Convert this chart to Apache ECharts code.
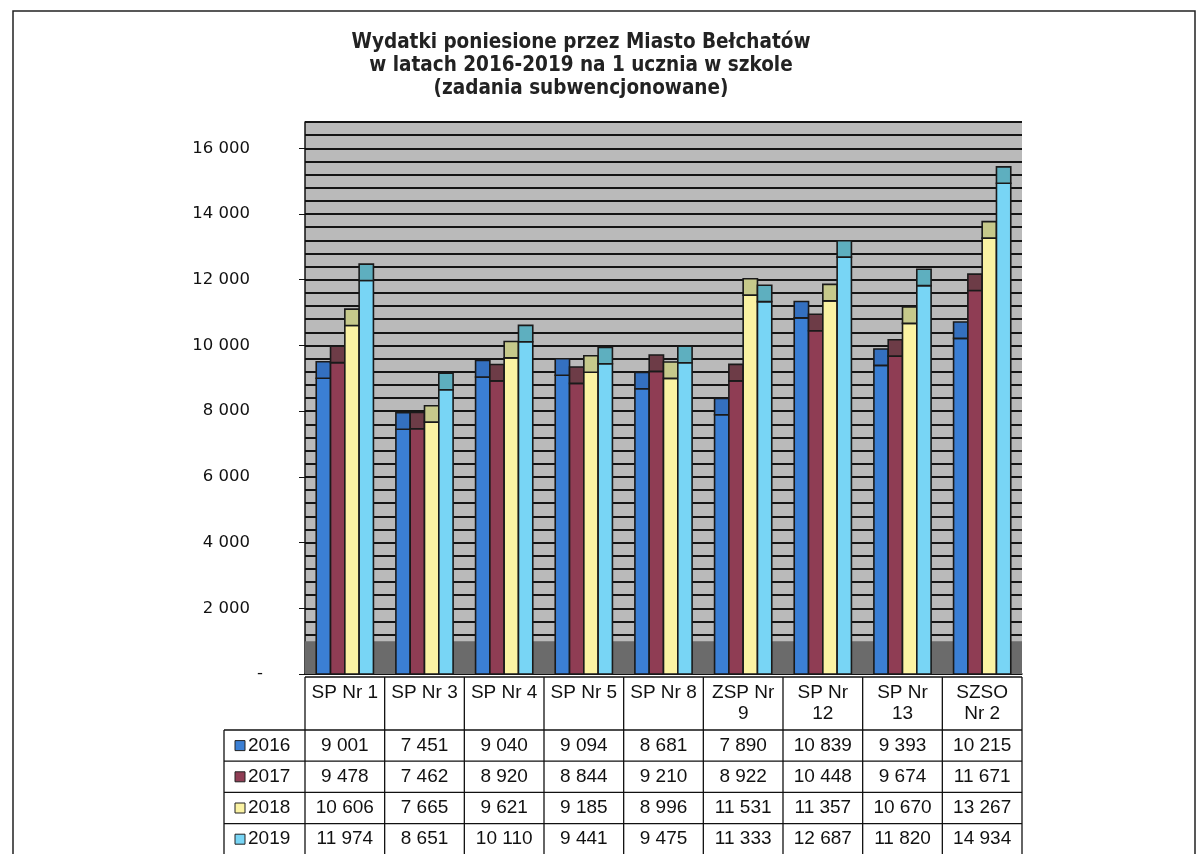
<!DOCTYPE html>
<html>
<head>
<meta charset="utf-8">
<title>Wydatki na 1 ucznia</title>
<script src="https://cdn.jsdelivr.net/npm/echarts@6/dist/echarts.min.js"></script>
<style>
  html, body { margin: 0; padding: 0; background: #fff; }
  #chart { width: 1204px; height: 854px; }
</style>
</head>
<body>
<div id="chart"></div>
<script>
// data
const schools = ['SP Nr 1', 'SP Nr 3', 'SP Nr 4', 'SP Nr 5', 'SP Nr 8', 'ZSP Nr\n9', 'SP Nr\n12', 'SP Nr\n13', 'SZSO\nNr 2'];
const years = ['2016', '2017', '2018', '2019'];
const v2016 = [9001, 7451, 9040, 9094, 8681, 7890, 10839, 9393, 10215];
const v2017 = [9478, 7462, 8920, 8844, 9210, 8922, 10448, 9674, 11671];
const v2018 = [10606, 7665, 9621, 9185, 8996, 11531, 11357, 10670, 13267];
const v2019 = [11974, 8651, 10110, 9441, 9475, 11333, 12687, 11820, 14934];
const yTicks = [0, 2000, 4000, 6000, 8000, 10000, 12000, 14000, 16000];

const rows = [v2016, v2017, v2018, v2019];
const colors = ['#3b7fd4', '#8f3d54', '#fbf3a3', '#78d5f5'];
const capColors = ['#3470c0', '#6d3c47', '#c6c98b', '#5eafbf'];

// layout (px)
const G = { left: 305, right: 182, top: 122, bottom: 180 };
const plotW = 1204 - G.left - G.right;
const colW = plotW / schools.length;
const barW = 14.3;
const capDepth = 500; // 3D cap look, in axis units
const tableTop = 677, headBottom = 730, rowH = 31.2, labelLeft = 224;

const fmt = v => String(v).replace(/\B(?=(\d{3})+(?!\d))/g, ' ');

function makeSeries(yi) {
  return {
    name: years[yi],
    type: 'custom',
    z: 3,
    data: rows[yi].map((v, i) => [i, v]),
    renderItem: function (params, api) {
      const c = api.value(0), v = api.value(1);
      const base = api.coord([c, 0]);
      const top = api.coord([c, v]);
      const capTop = api.coord([c, v + capDepth]);
      const x = base[0] - barW * 2 + yi * barW;
      return {
        type: 'group',
        children: [
          { type: 'rect', shape: { x: x, y: top[1], width: barW, height: base[1] - top[1] },
            style: { fill: colors[yi], stroke: '#1a1a1a', lineWidth: 1.6 } },
          { type: 'rect', shape: { x: x, y: capTop[1], width: barW, height: top[1] - capTop[1] },
            style: { fill: capColors[yi], stroke: '#1a1a1a', lineWidth: 1.6 } }
        ]
      };
    }
  };
}

// data table under the plot
function buildTable() {
  const els = [];
  const right = G.left + plotW;
  const bottom = headBottom + rowH * years.length;
  const font = '19px "Liberation Sans", Arial, sans-serif';
  const line = (x1, y1, x2, y2) => els.push({
    type: 'line', shape: { x1, y1, x2, y2 }, style: { stroke: '#111', lineWidth: 1.3 }
  });
  line(G.left, tableTop, right, tableTop);
  line(labelLeft, headBottom, right, headBottom);
  for (let r = 1; r <= years.length; r++) line(labelLeft, headBottom + rowH * r, right, headBottom + rowH * r);
  line(labelLeft, headBottom, labelLeft, bottom);
  for (let c = 0; c <= schools.length; c++) {
    line(G.left + colW * c, tableTop, G.left + colW * c, bottom);
  }
  schools.forEach((s, c) => {
    els.push({
      type: 'text', x: G.left + colW * (c + 0.5), y: tableTop + 5,
      style: { text: s, align: 'center', verticalAlign: 'top', lineHeight: 21, font: font, fill: '#111' }
    });
  });
  years.forEach((y, r) => {
    const cy = headBottom + rowH * (r + 0.5);
    els.push({
      type: 'rect', shape: { x: labelLeft + 11, y: cy - 5, width: 10, height: 10 },
      style: { fill: colors[r], stroke: '#222', lineWidth: 1 }
    });
    els.push({
      type: 'text', x: labelLeft + 24, y: cy,
      style: { text: y, align: 'left', verticalAlign: 'middle', font: font, fill: '#111' }
    });
    rows[r].forEach((v, c) => {
      els.push({
        type: 'text', x: G.left + colW * (c + 0.5), y: cy,
        style: { text: fmt(v), align: 'center', verticalAlign: 'middle', font: font, fill: '#111' }
      });
    });
  });
  // outer frame of the page
  els.push({
    type: 'rect', shape: { x: 13, y: 11, width: 1182, height: 870 },
    style: { fill: null, stroke: '#222', lineWidth: 1.5 }
  });
  return els;
}

const chart = echarts.init(document.getElementById('chart'));
const option = {
  backgroundColor: '#fff',
  animation: false,
  title: {
    text: 'Wydatki poniesione przez Miasto Bełchatów\nw latach 2016-2019 na 1 ucznia w szkole\n(zadania subwencjonowane)',
    left: 581,
    top: 31,
    textAlign: 'center',
    padding: 0,
    textStyle: {
      fontFamily: '"DejaVu Sans Condensed", "DejaVu Sans", sans-serif',
      fontWeight: 'bold',
      fontSize: 20.5,
      lineHeight: 23,
      color: '#222'
    }
  },
  grid: {
    left: G.left, right: G.right, top: G.top, bottom: G.bottom,
    show: true, backgroundColor: '#bababa', borderWidth: 0
  },
  xAxis: {
    type: 'category',
    data: schools,
    axisLabel: { show: false },
    axisTick: { show: false },
    axisLine: { lineStyle: { color: '#111', width: 1.5 } }
  },
  yAxis: [
    {
      type: 'value',
      min: 0,
      max: 16800,
      interval: 400,
      axisLine: { show: true, lineStyle: { color: '#111', width: 1.5 } },
      axisTick: { show: true, length: 6, customValues: yTicks, lineStyle: { color: '#111' } },
      axisLabel: {
        customValues: yTicks,
        margin: 42,
        formatter: v => v === 0 ? '{d|-}' : '{n|' + fmt(v) + '}',
        rich: {
          n: { fontFamily: '"DejaVu Sans", sans-serif', fontSize: 16.5, color: '#111', padding: [0, 13, 0, 0] },
          d: { fontFamily: '"DejaVu Sans", sans-serif', fontSize: 16.5, color: '#111' }
        }
      },
      splitLine: { show: false }
    },
    {
      // stripes every 400
      type: 'value',
      min: 0,
      max: 16800,
      interval: 400,
      axisLine: { show: false },
      axisTick: { show: false },
      axisLabel: { show: false },
      splitLine: { show: true, lineStyle: { color: '#151515', width: 2 } }
    }
  ],
  series: [
    {
      type: 'line',
      data: [],
      z: 1,
      markArea: {
        silent: true,
        itemStyle: { color: '#6b6b6b' },
        data: [[{ yAxis: 0 }, { yAxis: 1000 }]]
      }
    },
    makeSeries(0), makeSeries(1), makeSeries(2), makeSeries(3)
  ],
  graphic: buildTable()
};
chart.setOption(option);
</script>
</body>
</html>
